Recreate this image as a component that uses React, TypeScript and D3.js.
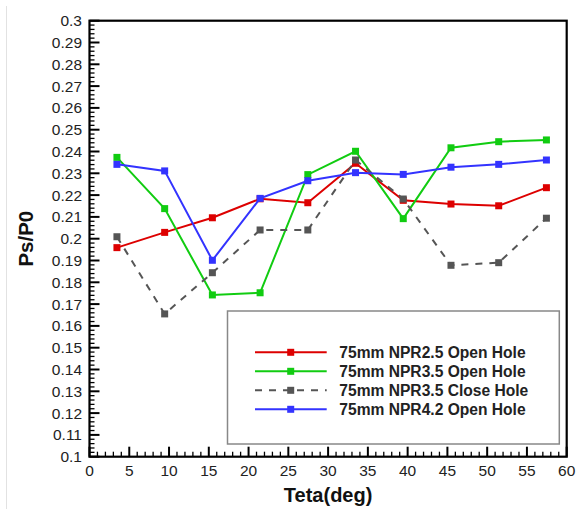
import React from "react";
import * as d3 from "d3";

// Angular positions of the pressure taps (deg)
const angles = [3.45, 9.45, 15.45, 21.45, 27.45, 33.45, 39.45, 45.45, 51.45, 57.45];

// Static-to-total pressure ratio for each run
const npr25Open = [0.1959, 0.2029, 0.2096, 0.2183, 0.2165, 0.2346, 0.2176, 0.2159, 0.2151, 0.2234];
const npr35Open = [0.2373, 0.2138, 0.1742, 0.1752, 0.2294, 0.2401, 0.2092, 0.2417, 0.2445, 0.2453];
const npr35Close = [0.2009, 0.1655, 0.1844, 0.204, 0.204, 0.2361, 0.2182, 0.1878, 0.189, 0.2094];
const npr42Open = [0.2341, 0.2311, 0.1901, 0.2185, 0.2266, 0.2303, 0.2295, 0.2328, 0.2341, 0.2361];

const seriesNames = [
  "75mm NPR2.5 Open Hole",
  "75mm NPR3.5 Open Hole",
  "75mm NPR3.5 Close Hole",
  "75mm NPR4.2 Open Hole",
];

const xTicks = [0, 5, 10, 15, 20, 25, 30, 35, 40, 45, 50, 55, 60];
const yTicks = [0.1, 0.11, 0.12, 0.13, 0.14, 0.15, 0.16, 0.17, 0.18, 0.19, 0.2, 0.21, 0.22, 0.23, 0.24, 0.25, 0.26, 0.27, 0.28, 0.29, 0.3];

const series = [
  { name: seriesNames[0], values: npr25Open, color: "#dd0000", dash: null },
  { name: seriesNames[1], values: npr35Open, color: "#11cc11", dash: null },
  { name: seriesNames[2], values: npr35Close, color: "#555555", dash: "7,7" },
  { name: seriesNames[3], values: npr42Open, color: "#3333ff", dash: null },
];

const W = 577;
const H = 509;
const left = 89.5;
const right = 566.7;
const top = 20.7;
const bottom = 456.7;

export default function App() {
  const x = d3.scaleLinear().domain([0, 60]).range([left, right]);
  const y = d3.scaleLinear().domain([0.1, 0.3]).range([bottom, top]);
  const line = d3
    .line<[number, number]>()
    .x((d) => x(d[0]))
    .y((d) => y(d[1]));

  const xMinor = d3.range(0, 61, 1).filter((v) => v % 5 !== 0);
  const yMinor = d3.range(100, 301, 2).map((v) => v / 1000).filter((v) => Math.round(v * 1000) % 10 !== 0);

  const fmt = (v: number) => String(+v.toFixed(2));
  const font = "Arial, 'Liberation Sans', sans-serif";
  const ms = 7;

  // legend geometry
  const lg = { x0: 227.5, y0: 311, x1: 559.3, y1: 444 };
  const legRows = [352.3, 371.3, 390.3, 409.3];

  return (
    <svg
      width={W}
      height={H}
      style={{ position: "absolute", left: 0, top: 0, background: "#fff" }}
      fontFamily={font}
    >
      <rect x={0} y={0} width={W} height={H} fill="#fff" />
      <line x1={6.5} y1={6} x2={6.5} y2={H} stroke="#e2e2e2" strokeWidth={1} />

      {/* ticks on left and bottom axes, pointing inward */}
      <g stroke="#000" strokeWidth={1.3}>
        {yTicks.map((v) => (
          <line key={"ym" + v} x1={left} x2={left + 10} y1={y(v)} y2={y(v)} strokeWidth={2} />
        ))}
        {yMinor.map((v) => (
          <line key={"yn" + v} x1={left} x2={left + 5} y1={y(v)} y2={y(v)} />
        ))}
        {xTicks.map((v) => (
          <line key={"xm" + v} x1={x(v)} x2={x(v)} y1={bottom} y2={bottom - 10} strokeWidth={2} />
        ))}
        {xMinor.map((v) => (
          <line key={"xn" + v} x1={x(v)} x2={x(v)} y1={bottom} y2={bottom - 5} />
        ))}
      </g>

      {/* data series */}
      {series.map((s) => {
        const pts = angles.map((a, i) => [a, s.values[i]] as [number, number]);
        return (
          <g key={s.name}>
            <path
              d={line(pts) || ""}
              fill="none"
              stroke={s.color}
              strokeWidth={2}
              strokeDasharray={s.dash || undefined}
            />
            {pts.map((p, i) => (
              <rect
                key={i}
                x={x(p[0]) - ms / 2}
                y={y(p[1]) - ms / 2}
                width={ms}
                height={ms}
                fill={s.color}
              />
            ))}
          </g>
        );
      })}

      {/* frame */}
      <rect x={left} y={top} width={right - left} height={bottom - top} fill="none" stroke="#000" strokeWidth={2.2} />

      {/* tick labels */}
      <g fontSize={15.5} fill="#222">
        {yTicks.map((v) => (
          <text key={"yl" + v} x={left - 7.5} y={y(v)} dy="0.36em" textAnchor="end">
            {fmt(v)}
          </text>
        ))}
        {xTicks.map((v) => (
          <text key={"xl" + v} x={x(v)} y={475.5} textAnchor="middle">
            {v}
          </text>
        ))}
      </g>

      {/* axis titles */}
      <text x={(left + right) / 2} y={502} textAnchor="middle" fontSize={20} fontWeight="bold" fill="#111">
        Teta(deg)
      </text>
      <text
        transform={`translate(33,${(top + bottom) / 2}) rotate(-90)`}
        textAnchor="middle"
        fontSize={20.5}
        fontWeight="bold"
        fill="#111"
      >
        Ps/P0
      </text>

      {/* legend */}
      <rect
        x={lg.x0}
        y={lg.y0}
        width={lg.x1 - lg.x0}
        height={lg.y1 - lg.y0}
        fill="#fff"
        stroke="#888"
        strokeWidth={1.5}
      />
      {series.map((s, i) => (
        <g key={"lg" + s.name}>
          <line
            x1={255}
            x2={326.7}
            y1={legRows[i]}
            y2={legRows[i]}
            stroke={s.color}
            strokeWidth={2}
            strokeDasharray={s.dash || undefined}
          />
          <rect x={290.7 - 3.5} y={legRows[i] - 3.5} width={7} height={7} fill={s.color} />
          <text x={339.3} y={legRows[i]} dy="0.36em" fontSize={15.6} fontWeight="bold" fill="#222">
            {s.name}
          </text>
        </g>
      ))}
    </svg>
  );
}
